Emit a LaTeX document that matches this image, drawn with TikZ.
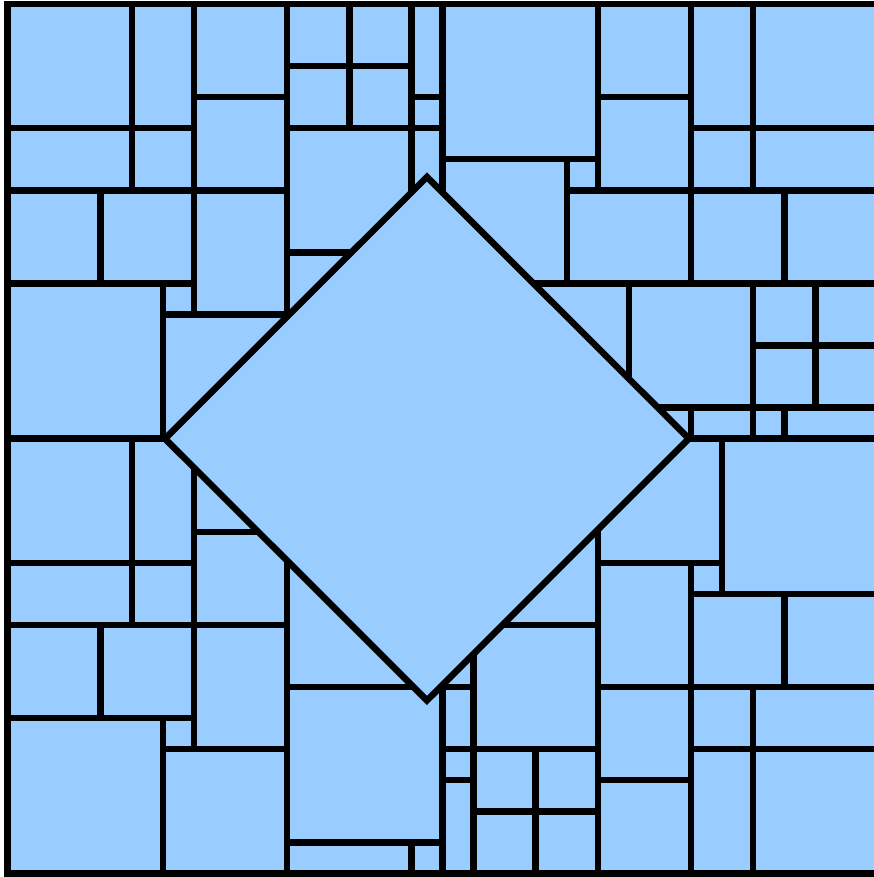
\documentclass[tikz,border=0pt]{standalone}
\definecolor{tile}{RGB}{153,204,255}
\tikzset{ln/.style={line width=6.5pt, line cap=rect, draw=black}}
\begin{document}
\begin{tikzpicture}[x=1pt,y=1pt]
\useasboundingbox (0,0) rectangle (874,877);
\begin{scope}[shift={(7.5,873)}, x=31.07pt, y=-31.05pt]
\fill[tile] (0,0) rectangle (29,28);
% horizontal segments: y/x1/x2
\foreach \y/\a/\b in {4/0/6, 6/0/9, 9/0/6, 10/5/9.5, 3/6/9, 2/9/13, 4/9/14, 8/9/11.8, 3/13/14,
  5/14/19, 6/18/29, 3/19/22, 4/22/29, 9/16.3/29, 13/20.3/29, 11/24/29, 14/21.3/29,
  14/0/5.6, 18/0/6, 20/0/9, 23/0/6, 24/5/9, 17/6/8.8, 22/9/15, 27/9/14,
  24/14/19, 25/14/15, 26/15/19, 20/15.3/19, 18/19/23, 19/22/29, 22/19/29, 25/19/22, 24/22/29}
  {\draw[ln] (\a,\y) -- (\b,\y);}
% vertical segments: x/y1/y2
\foreach \x/\a/\b in {4/0/6, 6/0/10, 3/6/9, 5/9/14, 9/0/10.7, 11/0/4, 13/0/6.7, 14/0/6.7,
  19/0/6, 18/5/9, 22/0/9, 24/0/6, 25/6/9, 20/9/12.6, 24/9/14, 26/9/13, 22/13/14, 25/13/14,
  4/14/20, 6/14.3/24, 3/20/23, 5/23/28, 9/17.2/28, 13/27/28, 14/21.5/28, 15/20.5/28,
  17/24/28, 19/16.3/28, 23/14/19, 22/18/28, 25/19/22, 24/22/28}
  {\draw[ln] (\x,\a) -- (\x,\b);}
% outer frame
\draw[ln, line cap=butt, line join=miter] (29,0) -- (0,0) -- (0,28) -- (29,28);
% diamond
\filldraw[fill=tile, draw=black, line width=6.5pt, line join=miter]
  (13.5,5.57) coordinate (dtop) -- (21.93,14) coordinate (dright)
  -- (13.5,22.43) coordinate (dbottom) -- (5.07,14) coordinate (dleft) -- cycle;
\end{scope}
\end{tikzpicture}
\end{document}
